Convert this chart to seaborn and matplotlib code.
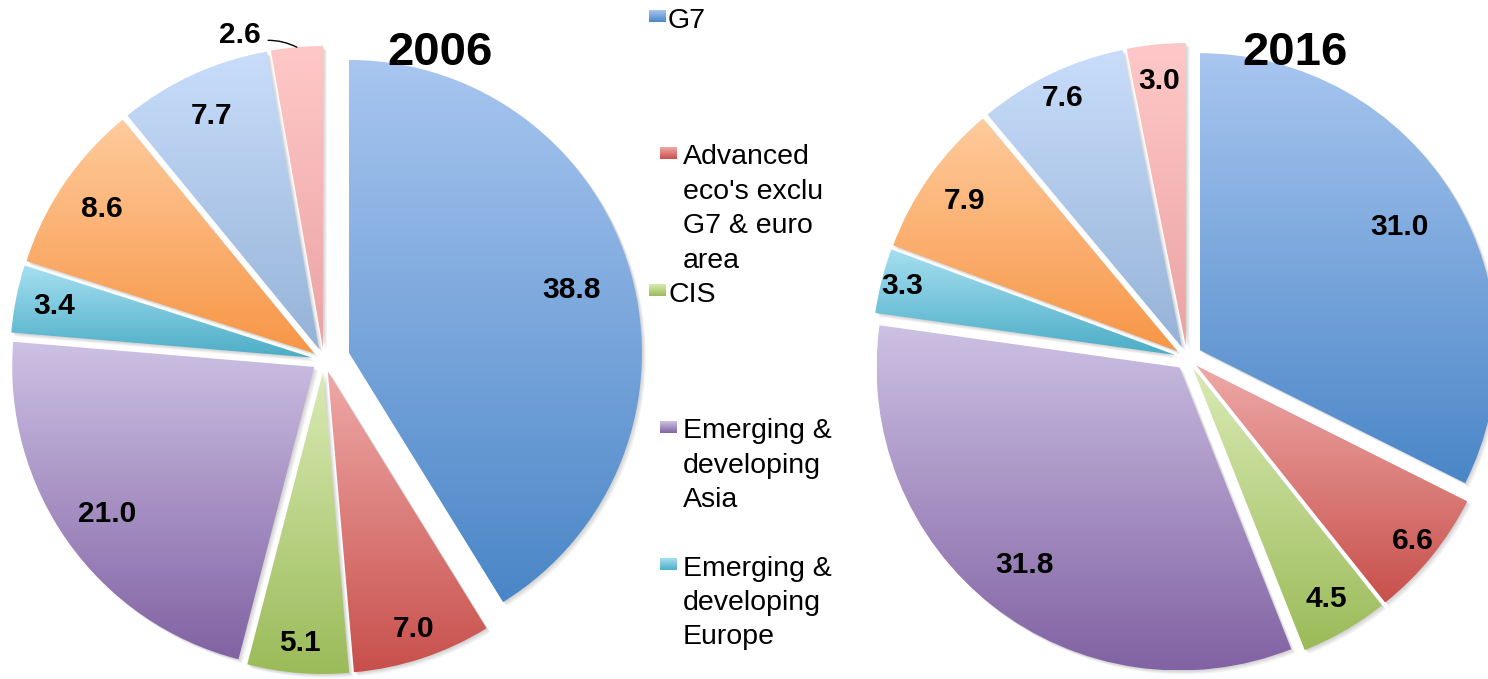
import textwrap
import numpy as np
import matplotlib
matplotlib.use("Agg")
import matplotlib.pyplot as plt
import matplotlib.patches as mpatches
import seaborn as sns

# ---- data -------------------------------------------------------------
categories = ["G7", "Advanced eco's exclu G7 & euro area", "CIS",
              "Emerging & developing Asia", "Emerging & developing Europe",
              "Latin America & Caribbean", "Middle East & North Africa",
              "Sub-Saharan Africa"]
years = ["2006", "2016"]
share_2006 = [38.8, 7.0, 5.1, 21.0, 3.4, 8.6, 7.7, 2.6]
share_2016 = [31.0, 6.6, 4.5, 31.8, 3.3, 7.9, 7.6, 3.0]
legend_count = 5  # only the first five fit in the legend box

# gradient ends per slice (top light, bottom dark)
tops = ["#A8C6F0", "#EEA9A7", "#D9EAB4", "#CDC1E4",
        "#A6DFF1", "#FFCB9D", "#C9DDFB", "#FFC8C8"]
bottoms = ["#4A86C7", "#C8504C", "#9BBB59", "#8162A3",
           "#4BADC6", "#F79646", "#95B3D7", "#EBA3A3"]

# label distance (fraction of radius), None = outside with leader line
label_r_2006 = [0.79, 0.90, 0.90, 0.84, 0.87, 0.85, 0.85, None]
label_r_2016 = [0.79, 0.92, 0.88, 0.83, 0.93, 0.86, 0.91, 0.88]

W, H = 1488, 679


def gradient_fill(ax, patch, top, bottom, z):
    patch.set_facecolor("none")
    patch.set_edgecolor("none")
    ext = patch.get_path().get_extents(patch.get_patch_transform())
    cmap = sns.blend_palette([bottom, top], as_cmap=True)
    grad = np.linspace(0, 1, 256).reshape(-1, 1)
    im = ax.imshow(grad, cmap=cmap, origin="lower", interpolation="bilinear",
                   extent=[ext.x0, ext.x1, ext.y0, ext.y1], zorder=z)
    im.set_clip_path(patch)


def main():
    sns.set_theme(style="white")
    plt.rcParams["font.family"] = ["Liberation Sans", "DejaVu Sans"]
    plt.rcParams["text.color"] = "black"

    fig = plt.figure(figsize=(W / 100, H / 100), dpi=100)
    ax = fig.add_axes([0, 0, 1, 1])

    pies = [
        (share_2006, label_r_2006, (324, H - 360), 302, 26, 0.97, (440, H - 53)),
        (share_2016, label_r_2016, (1187, H - 358), 303, 15, 0.98, (1295, H - 53)),
    ]
    for (values, lab_r, center, radius, g7_expl, g7_scale, title_xy), year in zip(pies, years):
        explode = [g7_expl] + [12] * (len(values) - 1)
        wedges, _ = ax.pie(values, explode=explode, center=center, radius=radius,
                           startangle=90, counterclock=False,
                           wedgeprops=dict(linewidth=0))
        wedges[0].set_radius(radius * g7_scale)
        for w, top, bot, v, f in zip(wedges, tops, bottoms, values, lab_r):
            # soft drop shadow
            for k in range(1, 5):
                ax.add_patch(mpatches.Wedge((w.center[0] + k, w.center[1] - k),
                                            w.r, w.theta1, w.theta2,
                                            facecolor="black", alpha=0.045,
                                            linewidth=0, zorder=1))
            gradient_fill(ax, w, top, bot, 2)
            ang = np.deg2rad((w.theta1 + w.theta2) / 2)
            if f is None:
                xy = (w.center[0] + w.r * np.cos(ang), w.center[1] + w.r * np.sin(ang))
                ax.annotate(f"{v:.1f}", xy=xy, xytext=(-57, 12),
                            textcoords="offset pixels", ha="center", va="center",
                            fontsize=21.5, fontweight="bold", zorder=5,
                            arrowprops=dict(arrowstyle="-", color="black", lw=1,
                                            relpos=(1.0, 0.3), shrinkA=3, shrinkB=0,
                                            connectionstyle="arc3,rad=-0.15"))
            else:
                ax.text(w.center[0] + f * w.r * np.cos(ang),
                        w.center[1] + f * w.r * np.sin(ang),
                        f"{v:.1f}", ha="center", va="center",
                        fontsize=21.5, fontweight="bold", zorder=5)
        ax.text(title_xy[0], title_xy[1], year, ha="center", va="center",
                fontsize=34, fontweight="bold", zorder=5)

    # legend (truncated, as in the source chart)
    for i in range(legend_count):
        slot_y = 18 + 137 * i
        label = textwrap.fill(categories[i], 11)
        multi = "\n" in label
        sq_x = 660 if multi else 649
        tx = 683 if multi else 668
        sq = mpatches.Rectangle((sq_x, H - slot_y - 4), 17, 12, linewidth=0)
        ax.add_patch(sq)
        gradient_fill(ax, sq, tops[i], bottoms[i], 3)
        ax.text(tx, H - slot_y + 10.5, label, ha="left", va="top",
                fontsize=20.5, linespacing=1.42)

    ax.set_xlim(0, W)
    ax.set_ylim(0, H)
    ax.set_aspect("equal")
    ax.axis("off")
    fig.savefig("out.png", dpi=100, facecolor="white")


if __name__ == "__main__":
    main()
